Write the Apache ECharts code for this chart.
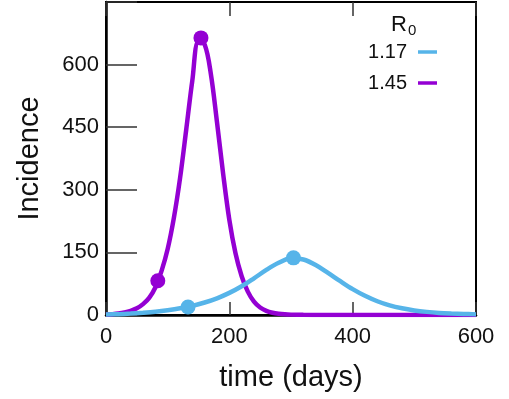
<!DOCTYPE html>
<html>
<head>
<meta charset="utf-8">
<script src="https://cdn.jsdelivr.net/npm/echarts@6/dist/echarts.min.js"></script>
<style>html,body{margin:0;padding:0;background:#fff;}#c{width:509px;height:399px;}</style>
</head>
<body>
<div id="c"></div>
<script>
// x ticks / y ticks
var xTicks = [0, 200, 400, 600];
var yTicks = [0, 150, 300, 450, 600];

// R0 = 1.45 (purple)
var daysHigh = [0, 10, 20, 30, 40, 50, 60, 70, 80, 90, 100, 110, 120, 130, 140, 150, 160, 170, 180, 190, 200, 210, 220, 230, 240, 250, 260, 270, 280, 290, 300, 320, 350, 400, 500, 600];
var incHigh = [1, 2, 3.5, 6, 10, 16, 26, 41, 66, 105, 158, 232, 327, 443, 562, 656, 648, 578, 462, 338, 228, 148, 93, 56, 32, 18, 10, 5.5, 3, 1.6, 0.9, 0.3, 0.1, 0, 0, 0];
var dotsHighT = [84, 154];
var dotsHighV = [82, 664];

// R0 = 1.17 (blue)
var daysLow = [0, 20, 40, 60, 80, 100, 120, 140, 160, 180, 200, 220, 240, 260, 280, 300, 320, 340, 360, 380, 400, 420, 440, 460, 480, 500, 520, 540, 560, 580, 600];
var incLow = [1, 2, 3.5, 5.5, 8, 11.5, 16, 22, 30, 40, 53, 69, 88, 108, 125, 136, 133, 120, 101, 81, 62, 46, 33, 23, 16, 11, 7.5, 5, 3.5, 2.5, 1.5];
var dotsLowT = [133, 304];
var dotsLowV = [19, 137];

var seriesNames = ['1.17', '1.45'];
var colorLow = '#56B4E9';
var colorHigh = '#9400D3';

function pairs(t, v) { return t.map(function (d, i) { return [d, v[i]]; }); }
function marks(t, v) { return t.map(function (d, i) { return { coord: [d, v[i]] }; }); }

var font = 'Liberation Sans, Arial, Helvetica, sans-serif';
var chart = echarts.init(document.getElementById('c'), null, { renderer: 'canvas' });
chart.setOption({
  animation: false,
  backgroundColor: '#fff',
  title: {
    text: 'R{s|0}',
    left: 386, top: 6,
    textStyle: { fontFamily: font, fontSize: 22, fontWeight: 'normal', color: '#111',
      rich: { s: { fontFamily: font, fontSize: 15, color: '#111', padding: [12, 0, 0, 1] } } }
  },
  legend: {
    data: seriesNames,
    orient: 'vertical',
    right: 67, top: 36,
    align: 'right',
    icon: 'rect',
    itemWidth: 19, itemHeight: 3.5,
    itemGap: 9,
    textStyle: { fontFamily: font, fontSize: 20, color: '#111', lineHeight: 22, padding: [0, 6, 0, 0] }
  },
  grid: { left: 106, right: 33, top: 2, bottom: 84, show: true, borderColor: '#000', borderWidth: 2 },
  xAxis: [{
    type: 'value', min: 0, max: 600, interval: 200,
    name: 'time (days)', nameLocation: 'middle', nameGap: 48,
    nameTextStyle: { fontFamily: font, fontSize: 29, color: '#111' },
    axisLine: { show: true, lineStyle: { color: '#000', width: 2.5 } },
    axisTick: { show: true, inside: true, length: 13, lineStyle: { color: '#333', width: 1.5 } },
    axisLabel: { fontFamily: font, fontSize: 22, color: '#111', margin: 11 },
    splitLine: { show: false }
  }, {
    type: 'value', position: 'top', min: 0, max: 600, interval: 200,
    axisLine: { show: true, lineStyle: { color: '#000', width: 2 } },
    axisTick: { show: true, inside: true, length: 14, lineStyle: { color: '#333', width: 1.5 } },
    axisLabel: { show: false },
    splitLine: { show: false }
  }],
  yAxis: {
    type: 'value', min: 0, max: 750, interval: 150,
    name: 'Incidence', nameLocation: 'middle', nameGap: 62,
    nameTextStyle: { fontFamily: font, fontSize: 29, color: '#111' },
    axisLine: { show: true, lineStyle: { color: '#000', width: 2.5 } },
    axisTick: { show: true, inside: true, length: 31, lineStyle: { color: '#333', width: 1.5 } },
    axisLabel: { fontFamily: font, fontSize: 22, color: '#111', margin: 7,
      formatter: function (v) { return yTicks.indexOf(v) >= 0 ? String(v) : ''; } },
    splitLine: { show: false }
  },
  series: [{
    name: seriesNames[1], type: 'line', data: pairs(daysHigh, incHigh),
    smooth: 0.35, showSymbol: false, z: 3,
    lineStyle: { color: colorHigh, width: 4.5 }, itemStyle: { color: colorHigh },
    markPoint: { symbol: 'circle', symbolSize: 15, label: { show: false },
      itemStyle: { color: colorHigh }, data: marks(dotsHighT, dotsHighV) }
  }, {
    name: seriesNames[0], type: 'line', data: pairs(daysLow, incLow),
    smooth: 0.35, showSymbol: false, z: 4,
    lineStyle: { color: colorLow, width: 4.5 }, itemStyle: { color: colorLow },
    markPoint: { symbol: 'circle', symbolSize: 15, label: { show: false },
      itemStyle: { color: colorLow }, data: marks(dotsLowT, dotsLowV) }
  }]
});
</script>
</body>
</html>
